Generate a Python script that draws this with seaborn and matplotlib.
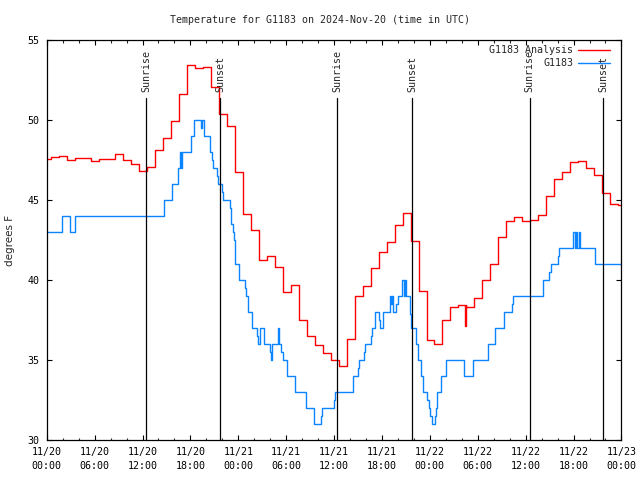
## grafico temperatura G1183: analisi oraria (rosso) e osservazioni (blu), con alba/tramonto

import pandas as pd
import seaborn as sns
import matplotlib.pyplot as plt
import matplotlib.dates as mdates

start = pd.Timestamp("2024-11-20 00:00")

# analisi: valori orari, ore dall'inizio
red_hours = [0.0] + [k + 0.58 for k in range(72)] + [72.0]
red_vals = [47.56, 47.67, 47.73, 47.5, 47.6, 47.6, 47.44, 47.56, 47.56, 47.86,
            47.5, 47.23, 46.79, 47.04, 48.1, 48.85, 49.94, 51.65, 53.42, 53.23,
            53.29, 52.08, 50.38, 49.6, 46.77, 44.1, 43.13, 41.25, 41.5, 40.79,
            39.23, 39.67, 37.48, 36.47, 35.93, 35.44, 34.98, 34.6, 36.29, 39.0,
            39.6, 40.73, 41.73, 42.36, 43.44, 44.17, 42.42, 39.31, 36.25, 36.0,
            37.5, 38.29, 38.46, 38.29, 38.85, 39.98, 40.98, 42.67, 43.69, 43.92,
            43.69, 43.75, 44.04, 45.23, 46.29, 46.73, 47.35, 47.42, 46.98, 46.56,
            45.44, 44.75, 44.67, 44.67]
red_spike_hours = [52.35, 52.5]
red_spike_vals = [37.1, 38.46]

# osservazioni stazione
obs_hours = [0, 1.96, 2.88, 3.55, 14.69, 15.74, 16.49, 16.66, 16.83, 16.99,
             18.12, 18.45, 19.37, 19.5, 19.66, 20.49, 20.74, 20.83, 21.33, 21.45,
             22.0, 22.08, 23.0, 23.12, 23.33, 23.5, 23.58, 24.08, 24.79, 24.92,
             25.21, 25.71, 26.34, 26.46, 26.67, 27.17, 27.92, 28.05, 28.22, 28.26,
             29.01, 29.09, 29.38, 29.59, 30.09, 31.14, 32.43, 33.48, 34.35, 34.48,
             35.98, 36.1, 38.36, 38.98, 39.11, 39.69, 39.86, 40.61, 40.78, 41.11,
             41.61, 41.78, 42.11, 42.95, 43.1, 43.2, 43.37, 43.78, 43.95, 44.54,
             44.7, 44.87, 45.04, 45.45, 45.62, 46.29, 46.5, 46.92, 47.12, 47.67,
             47.83, 48.0, 48.25, 48.63, 48.79, 48.88, 49.38, 50.05, 52.3, 53.38,
             55.25, 56.14, 57.31, 58.31, 58.43, 62.23, 62.98, 63.15, 63.99, 64.15,
             65.99, 66.16, 66.32, 66.45, 66.66, 66.75, 68.75, 72.0]
obs_vals = [43, 44, 43, 44, 45, 46, 47, 48, 47, 48,
            49, 50, 49.5, 50, 49, 48, 47.5, 47, 46.5, 46,
            45.5, 45, 44.5, 43.5, 43, 42.5, 41, 40, 39.5, 39,
            38, 37, 36.5, 36, 37, 36, 35.5, 35, 35.5, 36,
            37, 36, 35.5, 35, 34, 33, 32, 31, 31.5, 32,
            32.5, 33, 34, 34.5, 35, 35.5, 36, 36.5, 37, 38,
            37.5, 37, 38, 39, 38.5, 39, 38, 38.5, 39, 40,
            39, 40, 39, 37.9, 37, 36, 35, 34, 33, 32.5,
            32, 31.5, 31, 31.5, 32, 33, 34, 35, 34, 35,
            36, 37, 38, 38.5, 39, 40, 40.5, 41, 41.5, 42,
            43, 42, 43, 42, 43, 42, 41, 41]

sunrise = ["2024-11-20 12:29", "2024-11-21 12:25", "2024-11-22 12:29"]
sunset = ["2024-11-20 21:45", "2024-11-21 21:49", "2024-11-22 21:45"]

df_red = pd.DataFrame({"ore": red_hours + red_spike_hours,
                       "temp": red_vals + red_spike_vals}).sort_values("ore")
df_red["time"] = start + pd.to_timedelta(df_red["ore"], unit="h")
df_obs = pd.DataFrame({"ore": obs_hours, "temp": obs_vals})
df_obs["time"] = start + pd.to_timedelta(df_obs["ore"], unit="h")

sns.set_style("ticks")
plt.rcParams["font.family"] = ["DejaVu Sans Mono"]
plt.rcParams.update({
    "xtick.direction": "in", "ytick.direction": "in",
    "xtick.top": True, "ytick.right": True,
    "xtick.major.size": 3.6, "ytick.major.size": 3.6,
    "xtick.minor.size": 1.8, "xtick.minor.top": True,
    "xtick.major.width": 0.8, "ytick.major.width": 0.8,
    "xtick.minor.width": 0.8,
    "axes.linewidth": 0.9, "axes.edgecolor": "black",
})
fs = 7.2

fig = plt.figure(figsize=(6.4, 4.8), dpi=100)
ax = fig.add_axes([0.073, 0.0833, 0.898, 0.8334])

sns.lineplot(data=df_red, x="time", y="temp", ax=ax, color="#ff0000", lw=1.0,
             drawstyle="steps-post", estimator=None, sort=False, label="G1183 Analysis")
sns.lineplot(data=df_obs, x="time", y="temp", ax=ax, color="#0a84ff", lw=1.0,
             drawstyle="steps-post", estimator=None, sort=False, label="G1183")

for lista, nome in [(sunrise, "Sunrise"), (sunset, "Sunset")]:
    for t in lista:
        xt = mdates.date2num(pd.Timestamp(t))
        ax.axvline(xt, ymin=0, ymax=0.855, color="black", lw=0.9)
        ax.text(xt, 0.87, nome, rotation=90, ha="center", va="bottom",
                fontsize=fs, transform=ax.get_xaxis_transform())

ax.set_xlim(start, start + pd.Timedelta(hours=72))
ax.set_ylim(30, 55)
ax.set_yticks([30, 35, 40, 45, 50, 55])
ax.xaxis.set_major_locator(mdates.HourLocator(byhour=range(0, 24, 6)))
ax.xaxis.set_minor_locator(mdates.HourLocator(byhour=range(0, 24, 2)))
ax.xaxis.set_major_formatter(mdates.DateFormatter("%m/%d\n%H:%M"))
ax.tick_params(labelsize=fs, colors="black")
ax.tick_params(axis="x", pad=5)
ax.tick_params(axis="y", pad=5)
ax.set_xlabel("")
ax.set_ylabel("degrees F", fontsize=7.5, family="DejaVu Sans", labelpad=9)
for sp in ax.spines.values():
    sp.set_visible(True)

ax.legend(loc="upper right", bbox_to_anchor=(0.99, 1.0), frameon=False,
          markerfirst=False, fontsize=fs, handlelength=3.2, handletextpad=0.5,
          borderaxespad=0.25, borderpad=0.3, labelspacing=0.3)

fig.text(0.5, 1 - 20 / 480, "Temperature for G1183 on 2024-Nov-20 (time in UTC)",
         ha="center", va="center", fontsize=fs)

fig.canvas.draw()
plt.setp(ax.get_xticklabels(), linespacing=1.55)

fig.savefig("out.png", dpi=100)
